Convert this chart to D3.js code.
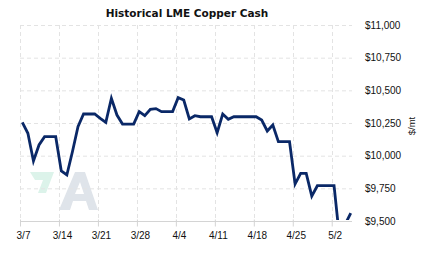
<!DOCTYPE html>
<html>
<head>
<meta charset="utf-8">
<script src="https://cdn.jsdelivr.net/npm/d3@7"></script>
<style>
  html, body { margin: 0; padding: 0; background: #fff; }
  svg { display: block; }
</style>
</head>
<body>
<svg id="chart" width="423" height="257"></svg>
<script>
const title = "Historical LME Copper Cash";
const unitLabel = "$/mt";
const dates = [
  "2022-03-07","2022-03-08","2022-03-09","2022-03-10","2022-03-11","2022-03-12","2022-03-13",
  "2022-03-14","2022-03-15","2022-03-16","2022-03-17","2022-03-18","2022-03-19","2022-03-20",
  "2022-03-21","2022-03-22","2022-03-23","2022-03-24","2022-03-25","2022-03-26","2022-03-27",
  "2022-03-28","2022-03-29","2022-03-30","2022-03-31","2022-04-01","2022-04-02","2022-04-03",
  "2022-04-04","2022-04-05","2022-04-06","2022-04-07","2022-04-08","2022-04-09","2022-04-10",
  "2022-04-11","2022-04-12","2022-04-13","2022-04-14","2022-04-15","2022-04-16","2022-04-17",
  "2022-04-18","2022-04-19","2022-04-20","2022-04-21","2022-04-22","2022-04-23","2022-04-24",
  "2022-04-25","2022-04-26","2022-04-27","2022-04-28","2022-04-29","2022-04-30","2022-05-01",
  "2022-05-02","2022-05-03","2022-05-04","2022-05-05"
];
const prices = [
  10255,10171,9959,10082,10145,10145,10145,
  9883,9852,10030,10222,10319,10319,10319,
  10286,10255,10439,10311,10242,10242,10242,
  10337,10306,10355,10360,10337,10337,10337,
  10444,10426,10281,10306,10298,10298,10298,
  10176,10319,10278,10298,10298,10298,10298,
  10298,10273,10189,10235,10107,10107,10107,
  9783,9865,9865,9691,9770,9770,9770,
  9770,9362,9475,9560
];
const xTickLabels = ["3/7","3/14","3/21","3/28","4/4","4/11","4/18","4/25","5/2"];
const yTicks = [9500, 9750, 10000, 10250, 10500, 10750, 11000];
const yDomain = [9500, 11000];
const xDomain = ["2022-03-07", "2022-05-06"];

(function () {
const parse = d3.utcParse("%Y-%m-%d");
const svg = d3.select("#chart");
const pLeft = 20, pRight = 354, pTop = 25, pBottom = 221;

const x = d3.scaleUtc().domain(xDomain.map(parse)).range([pLeft, pRight]);
const y = d3.scaleLinear().domain(yDomain).range([pBottom, pTop]);

const tickDates = xTickLabels.map(s => {
  const [m, d] = s.split("/").map(Number);
  return new Date(Date.UTC(2022, m - 1, d));
});

// title
svg.append("text")
  .attr("x", 187).attr("y", 17)
  .attr("text-anchor", "middle")
  .attr("font-family", "DejaVu Sans, sans-serif")
  .attr("font-weight", "bold")
  .attr("font-size", 10.5)
  .attr("fill", "#111")
  .text(title);

// watermark logo
const logo = svg.append("g");
logo.append("path")
  .attr("d", "M30,172 L54,172 L46,193 L38,193 L43,180 L35,180 Z")
  .attr("fill", "#dcf3ea");
logo.append("path")
  .attr("d", "M59,210 L75,172 L85,172 L98,210 L89,210 L86,201 L73,201 L70,210 Z M75,194 L84,194 L80,182 Z")
  .attr("fill", "#dfe4ea")
  .attr("fill-rule", "evenodd");

// horizontal grid
svg.append("g")
  .selectAll("line")
  .data(yTicks.filter(v => v !== yDomain[0]))
  .join("line")
  .attr("x1", pLeft).attr("x2", pRight - 2)
  .attr("y1", d => y(d) + 0.5).attr("y2", d => y(d) + 0.5)
  .attr("stroke", "#e3e3e3")
  .attr("stroke-dasharray", "4,3");

// vertical grid
svg.append("g")
  .selectAll("line")
  .data(tickDates)
  .join("line")
  .attr("x1", d => Math.round(x(d)) + 0.5).attr("x2", d => Math.round(x(d)) + 0.5)
  .attr("y1", pTop).attr("y2", pBottom)
  .attr("stroke", "#e3e3e3")
  .attr("stroke-dasharray", "4,3");

// x axis
const xAxis = d3.axisBottom(x)
  .tickValues(tickDates)
  .tickSize(5)
  .tickFormat((d, i) => xTickLabels[i]);
const gx = svg.append("g")
  .attr("transform", `translate(0,${pBottom + 0.5})`)
  .call(xAxis);
gx.select(".domain").attr("stroke", "#d4d4d4").attr("d", `M${pLeft},0H${pRight - 2}`);
gx.selectAll(".tick line").attr("stroke", "#d4d4d4").attr("y1", -2);
gx.selectAll(".tick text")
  .attr("font-family", "Liberation Sans, Arial, sans-serif")
  .attr("font-size", 10)
  .attr("fill", "#111")
  .attr("dx", 3)
  .attr("y", 10);

// y axis labels
const yAxis = d3.axisRight(y)
  .tickValues(yTicks)
  .tickSize(0)
  .tickFormat(d3.format("$,.0f"));
const gy = svg.append("g")
  .attr("transform", `translate(365,0)`)
  .call(yAxis);
gy.select(".domain").remove();
gy.selectAll(".tick text")
  .attr("x", 0)
  .attr("font-family", "Liberation Sans, Arial, sans-serif")
  .attr("font-size", 10)
  .attr("fill", "#111");

svg.append("text")
  .attr("transform", "translate(415,126) rotate(-90)")
  .attr("text-anchor", "middle")
  .attr("font-family", "Liberation Sans, Arial, sans-serif")
  .attr("font-size", 9.5)
  .attr("fill", "#111")
  .text(unitLabel);

// clip
svg.append("clipPath").attr("id", "plotclip")
  .append("rect").attr("x", pLeft).attr("y", pTop - 5)
  .attr("width", pRight - pLeft).attr("height", pBottom - pTop + 4);

const data = dates.map((d, i) => ({ date: d3.utcHour.offset(parse(d), 10), value: prices[i] }));
const line = d3.line()
  .x(d => x(d.date))
  .y(d => y(d.value));

svg.append("path")
  .datum(data)
  .attr("clip-path", "url(#plotclip)")
  .attr("fill", "none")
  .attr("stroke", "#0a2867")
  .attr("stroke-width", 2.8)
  .attr("stroke-linejoin", "miter")
  .attr("d", line);
})();
</script>
</body>
</html>
